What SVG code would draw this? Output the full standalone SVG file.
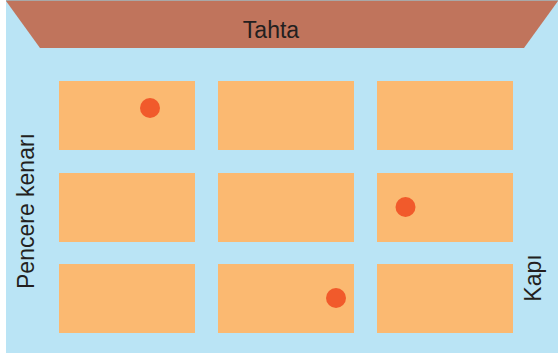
<svg xmlns="http://www.w3.org/2000/svg" width="558" height="355" viewBox="0 0 558 355">
<style>
.desk{fill:#FBB971}
.dot{fill:#F15A2B}
.lbl{font-family:"Liberation Sans",Arial,sans-serif;font-size:23px;fill:#231F20}
</style>
<rect x="0" y="0" width="558" height="355" fill="#FFFFFF"/>
<rect id="room" x="6" y="0" width="552" height="353" fill="#BAE4F5"/>
<rect x="6" y="0" width="552" height="1" fill="#A8A8A8"/>
<g id="board">
<polygon points="6,1 558,1 524,48 40,48" fill="#C0745C"/>
<text class="lbl" x="271" y="38" text-anchor="middle">Tahta</text>
</g>
<g id="window">
<text class="lbl" transform="translate(34,211) rotate(-90)" text-anchor="middle">Pencere kenarı</text>
</g>
<g id="door">
<text class="lbl" transform="translate(541,278) rotate(-90)" text-anchor="middle">Kapı</text>
</g>
<g id="desk-1-1"><rect class="desk" x="59" y="81" width="136" height="69"/><circle class="dot" cx="150" cy="108" r="10"/></g>
<g id="desk-1-2"><rect class="desk" x="218" y="81" width="136" height="69"/></g>
<g id="desk-1-3"><rect class="desk" x="377" y="81" width="136" height="69"/></g>
<g id="desk-2-1"><rect class="desk" x="59" y="173" width="136" height="69"/></g>
<g id="desk-2-2"><rect class="desk" x="218" y="173" width="136" height="69"/></g>
<g id="desk-2-3"><rect class="desk" x="377" y="173" width="136" height="69"/><circle class="dot" cx="405.5" cy="207" r="10"/></g>
<g id="desk-3-1"><rect class="desk" x="59" y="264" width="136" height="69"/></g>
<g id="desk-3-2"><rect class="desk" x="218" y="264" width="136" height="69"/><circle class="dot" cx="336" cy="298" r="10"/></g>
<g id="desk-3-3"><rect class="desk" x="377" y="264" width="136" height="69"/></g>
<g id="connectors"></g>
</svg>
